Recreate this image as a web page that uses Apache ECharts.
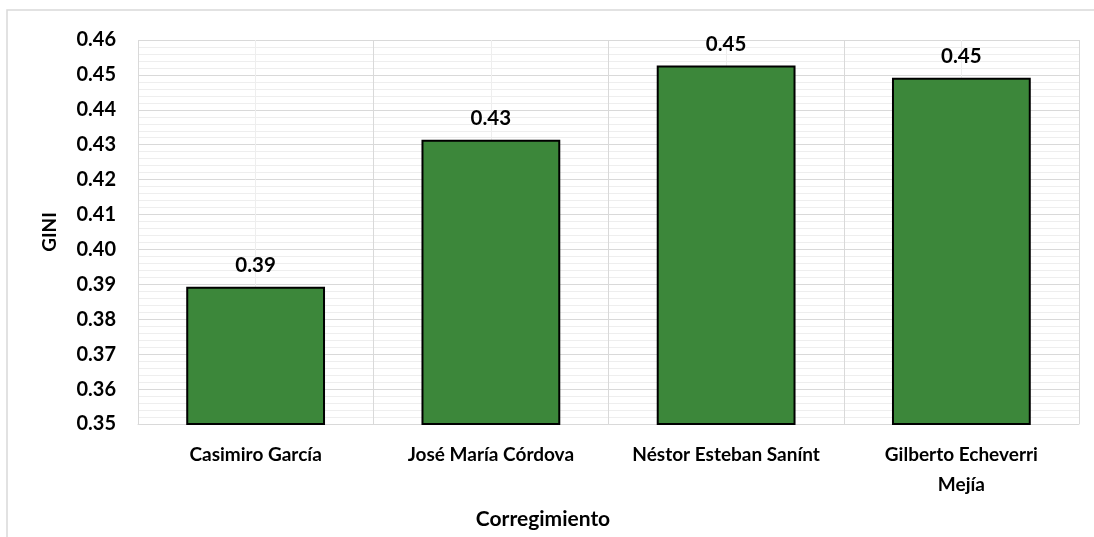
<!DOCTYPE html>
<html>
<head>
<meta charset="utf-8">
<script src="https://cdn.jsdelivr.net/npm/echarts@6/dist/echarts.min.js"></script>
<style>
html,body{margin:0;padding:0;background:#fff;}
#chart{width:1094px;height:537px;}
</style>
</head>
<body>
<div id="chart"></div>
<script>
const categories = ["Casimiro García", "José María Córdova", "Néstor Esteban Sanínt", "Gilberto Echeverri Mejía"];
const giniValues = [0.3893, 0.4314, 0.4527, 0.4492];
const yTicks = [0.35, 0.36, 0.37, 0.38, 0.39, 0.40, 0.41, 0.42, 0.43, 0.44, 0.45, 0.46];
const xAxisTitle = "Corregimiento";
const yAxisTitle = "GINI";

const FONT = "Lato";
function wrapLabel(s) {
  if (s.length <= 22) return s;
  const i = s.lastIndexOf(' ');
  return s.slice(0, i) + '\n' + s.slice(i + 1);
}
const chart = echarts.init(document.getElementById('chart'), null, {renderer: 'canvas'});
chart.setOption({
  animation: false,
  backgroundColor: '#ffffff',
  grid: {left: 138, right: 15, top: 40, bottom: 113, containLabel: false},
  xAxis: [{
    type: 'category',
    data: categories,
    axisLine: {show: true, lineStyle: {color: '#d9d9d9', width: 1}},
    axisTick: {show: false},
    splitLine: {show: false},
    axisLabel: {
      interval: 0, margin: 16, color: '#000', fontFamily: FONT, fontWeight: 'bold', fontSize: 19,
      lineHeight: 30, formatter: wrapLabel
    }
  }, {
    type: 'value', min: 0, max: categories.length, interval: 1,
    position: 'bottom', show: true,
    axisLine: {show: false}, axisTick: {show: false}, axisLabel: {show: false},
    splitLine: {show: true, lineStyle: {color: '#d9d9d9', width: 1}},
    minorTick: {show: false, splitNumber: 2},
    minorSplitLine: {show: true, lineStyle: {color: '#eeeeee', width: 1}}
  }],
  yAxis: {
    type: 'value',
    min: yTicks[0], max: yTicks[yTicks.length - 1], interval: 0.01,
    axisLine: {show: false}, axisTick: {show: false},
    axisLabel: {
      color: '#000', fontFamily: FONT, fontWeight: 'bold', fontSize: 20, margin: 22,
      formatter: v => v.toFixed(2)
    },
    splitLine: {show: true, lineStyle: {color: '#d9d9d9', width: 1}},
    minorTick: {show: false, splitNumber: 5},
    minorSplitLine: {show: true, lineStyle: {color: '#eeeeee', width: 1}}
  },
  series: [{
    type: 'bar',
    data: giniValues,
    xAxisIndex: 0,
    barWidth: '59%',
    itemStyle: {color: '#3c873a', borderColor: '#000000', borderWidth: 2},
    label: {
      show: true, position: 'top', distance: 11,
      color: '#000', fontFamily: FONT, fontWeight: 'bold', fontSize: 20.5,
      formatter: p => p.value.toFixed(2)
    }
  }],
  graphic: [
    {type: 'rect', x: 7, y: 10, shape: {width: 1100, height: 560},
     style: {fill: 'none', stroke: '#d9d9d9', lineWidth: 1.5}, z: -1},
    {type: 'text', style: {text: xAxisTitle, font: 'bold 21px Lato', fill: '#000', textAlign: 'center', textVerticalAlign: 'middle'},
     x: 543, y: 519},
    {type: 'text', style: {text: yAxisTitle, font: 'bold 19px Lato', fill: '#000', textAlign: 'center', textVerticalAlign: 'middle'},
     x: 50, y: 232, rotation: Math.PI / 2}
  ]
});
</script>
</body>
</html>
